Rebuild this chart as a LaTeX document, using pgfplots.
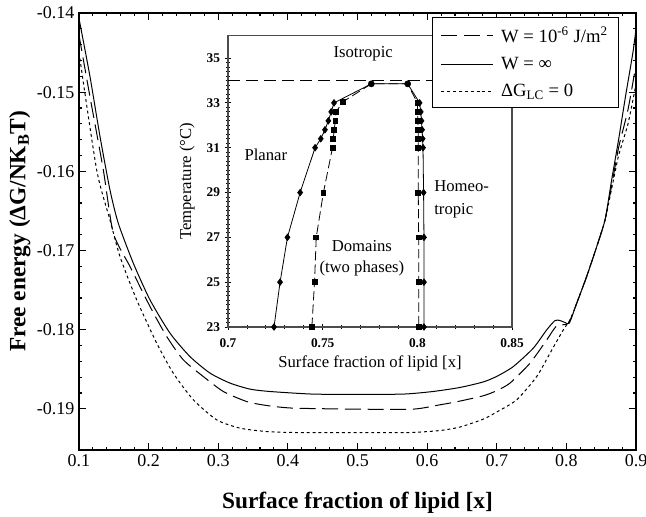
\documentclass[border=0pt]{standalone}
\usepackage{fontspec}
\setmainfont{Liberation Serif}
\usepackage{pgfplots}
\pgfplotsset{compat=1.18}

\begin{document}
\begin{tikzpicture}
% inset (drawn first, so the legend of the main plot covers its corner)
\begin{axis}[
    name=inset, at={(111.75pt,92.25pt)}, anchor=south west,
    scale only axis, width=213pt, height=218.5pt,
    xmin=0.7, xmax=0.85, ymin=23, ymax=36,
    xtick={0.7,0.75,0.8,0.85}, ytick={23,25,27,29,31,33,35},
    minor x tick num=4, minor y tick num=9,
    xtick pos=bottom, ytick pos=left, tick align=center,
    major tick length=5pt, minor tick length=2.5pt,
    axis line style={black!70, line width=1pt},
    every tick/.style={black, line width=0.6pt},
    /pgf/number format/assume math mode=true,
    ticklabel style={font=\fontsize{10}{12}\selectfont\bfseries},
    xticklabel style={yshift=-3pt},
    xlabel={Surface fraction of lipid [x]},
    ylabel={Temperature (°C)},
    label style={font=\fontsize{12.5}{14}\selectfont},
    xlabel style={at={(axis description cs:0.5,-0.124)}, anchor=center},
    ylabel style={at={(axis description cs:-0.144,0.5)}, anchor=center},
]
\addplot[black, line width=0.9pt, dash pattern=on 9pt off 4.5pt] coordinates {(0.7,34) (0.85,34)};
% boundary measured with W = infinity (diamonds)
\addplot[black, line width=0.6pt, mark=diamond*, mark size=2.4pt,
    mark indices={1,2,3,4,5,6,7,8,9,10,13,14,15,16,17,18,19,20,21,22}] coordinates {
    (0.7243,23) (0.7275,25) (0.7314,27) (0.7381,29) (0.7460,31)
    (0.7490,31.4) (0.7512,31.8) (0.7530,32.2) (0.7545,32.6) (0.7560,33.0)
    (0.7757,33.85) (0.7949,33.85)
    (0.8012,33.0) (0.8018,32.6) (0.8022,32.2) (0.8025,31.8) (0.8028,31.4)
    (0.8030,31) (0.8033,29) (0.8035,27) (0.8035,25) (0.8035,23)
};
% two-phase region boundary (squares)
\addplot[black, line width=0.6pt, dash pattern=on 7pt off 3pt, mark=square*, mark size=1.8pt,
    mark options={solid},
    mark indices={1,2,3,4,5,6,7,8,9,10,13,14,15,16,17,18,19,20,21,22}] coordinates {
    (0.7443,23) (0.7457,25) (0.7466,27) (0.7504,29) (0.7552,31)
    (0.7556,31.4) (0.7561,31.8) (0.7567,32.2) (0.7571,32.6) (0.7607,33.05)
    (0.7757,33.85) (0.7949,33.85)
    (0.8000,33.0) (0.8002,32.6) (0.8003,32.2) (0.8004,31.8) (0.8005,31.4)
    (0.8005,31) (0.8005,29) (0.8007,27) (0.8007,25) (0.8007,23)
};
\addplot[black, only marks, mark=*, mark size=2.3pt] coordinates {(0.7757,33.85) (0.7949,33.85)};
\node[font=\fontsize{12.5}{14}\selectfont] at (axis cs:0.7714,35.2) {Isotropic};
\node[font=\fontsize{12.5}{14}\selectfont] at (axis cs:0.7200,30.68) {Planar};
\node[font=\fontsize{12.5}{14}\selectfont, anchor=west] at (axis cs:0.8065,29.3) {Homeo-};
\node[font=\fontsize{12.5}{14}\selectfont, anchor=west] at (axis cs:0.8065,28.2) {tropic};
\node[font=\fontsize{12.5}{14}\selectfont] at (axis cs:0.7707,26.6) {Domains};
\node[font=\fontsize{12.5}{14}\selectfont] at (axis cs:0.7707,25.6) {(two phases)};
\end{axis}

% main plot
\begin{axis}[
    name=main, at={(0pt,0pt)}, anchor=south west,
    scale only axis, width=417.75pt, height=327.75pt,
    xmin=0.1, xmax=0.9, ymin=-0.1952, ymax=-0.14,
    xtick={0.1,0.2,0.3,0.4,0.5,0.6,0.7,0.8,0.9},
    ytick={-0.19,-0.18,-0.17,-0.16,-0.15,-0.14},
    minor x tick num=4, minor y tick num=4,
    tick align=inside, major tick length=5pt, minor tick length=2.5pt,
    axis line style={line width=1pt},
    every tick/.style={black, line width=0.8pt},
    scaled y ticks=false,
    /pgf/number format/assume math mode=true,
    yticklabel style={/pgf/number format/fixed, /pgf/number format/precision=2},
    ticklabel style={font=\fontsize{13.5}{15}\selectfont},
    xlabel={Surface fraction of lipid [x]},
    ylabel={Free energy (ΔG/NK\textsubscript{B}T)},
    label style={font=\fontsize{17.5}{20}\selectfont\bfseries},
    xlabel style={at={(axis description cs:0.5,-0.121)}, anchor=center},
    ylabel style={at={(axis description cs:-0.106,0.5)}, anchor=center},
    legend style={at={(0.9695,0.991)}, anchor=north east, draw=black, line width=0.9pt,
        fill=white, font=\fontsize{14}{16}\selectfont, inner xsep=6pt, inner ysep=5pt,
        row sep=5.5pt, /tikz/every odd column/.append style={column sep=3.5pt}},
    legend cell align=left,
    legend image code/.code={\draw[#1] (0pt,0pt) -- (39pt,0pt);},
]
\addplot[black, line width=0.75pt, dash pattern=on 12pt off 5pt, smooth, tension=0.4] coordinates {
    (0.1000,-0.1428) (0.1158,-0.1506) (0.1349,-0.1598) (0.1493,-0.16781)
    (0.1733,-0.17203) (0.2020,-0.17708) (0.2260,-0.18087) (0.2498,-0.18381)
    (0.2785,-0.18592) (0.3073,-0.18781) (0.3409,-0.18908) (0.3696,-0.18958)
    (0.4074,-0.18991) (0.5000,-0.19004) (0.5797,-0.19004) (0.6185,-0.18949)
    (0.6429,-0.18910) (0.6807,-0.18835) (0.7000,-0.18770) (0.7190,-0.18675) (0.7478,-0.18423)
    (0.7718,-0.18129) (0.7861,-0.17952) (0.8028,-0.17918) (0.8149,-0.17665)
    (0.8291,-0.17329) (0.8436,-0.16951) (0.8555,-0.16614) (0.8650,-0.16180)
    (0.8750,-0.15700) (0.8885,-0.15220) (0.9000,-0.14650)
};
\addlegendentry{W = 10\textsuperscript{-6} J/m\textsuperscript{2}}
\addplot[black, line width=0.75pt, smooth, tension=0.4] coordinates {
    (0.1000,-0.1407) (0.1158,-0.14804) (0.1302,-0.15562) (0.1445,-0.16235)
    (0.1564,-0.16655) (0.1780,-0.17160) (0.2020,-0.17624) (0.2307,-0.18044)
    (0.2594,-0.18340) (0.2882,-0.18549) (0.3169,-0.18675) (0.3456,-0.18751)
    (0.3743,-0.18781) (0.4361,-0.18814) (0.5000,-0.18816) (0.5654,-0.18814)
    (0.6085,-0.18781) (0.6472,-0.18730) (0.6807,-0.18660) (0.7000,-0.18590) (0.7238,-0.18466)
    (0.7525,-0.18233) (0.7718,-0.18002) (0.7837,-0.17885) (0.7909,-0.17885)
    (0.7981,-0.17910) (0.8042,-0.17918) (0.8149,-0.17665) (0.8291,-0.17329)
    (0.8436,-0.16951) (0.8555,-0.16614) (0.8650,-0.16110) (0.8750,-0.15600)
    (0.8850,-0.15050) (0.8957,-0.14492) (0.9000,-0.14200)
};
\addlegendentry{W = ∞}
\addplot[black, line width=0.75pt, dash pattern=on 2.2pt off 2.2pt, smooth, tension=0.4] coordinates {
    (0.1000,-0.1450) (0.1254,-0.15982) (0.1445,-0.16614) (0.1589,-0.17077)
    (0.1829,-0.17624) (0.2116,-0.18170) (0.2354,-0.18549) (0.2642,-0.18886)
    (0.2978,-0.19139) (0.3312,-0.19244) (0.3696,-0.19287) (0.4074,-0.19299)
    (0.5000,-0.19301) (0.5754,-0.19299) (0.6185,-0.19274) (0.6472,-0.19230)
    (0.6807,-0.19130) (0.7000,-0.19040) (0.7287,-0.18886) (0.7574,-0.18592) (0.7765,-0.18297)
    (0.7956,-0.18002) (0.8052,-0.17876) (0.8149,-0.17665) (0.8291,-0.17329)
    (0.8436,-0.16951) (0.8555,-0.16614) (0.8650,-0.16220) (0.8750,-0.15800)
    (0.8885,-0.15400) (0.9000,-0.14900)
};
\addlegendentry{ΔG\textsubscript{LC} = 0}
\end{axis}
\pgfresetboundingbox
\path[use as bounding box] (-59.25pt,-50.25pt) rectangle (425.25pt,337.5pt);
\end{tikzpicture}
\end{document}
